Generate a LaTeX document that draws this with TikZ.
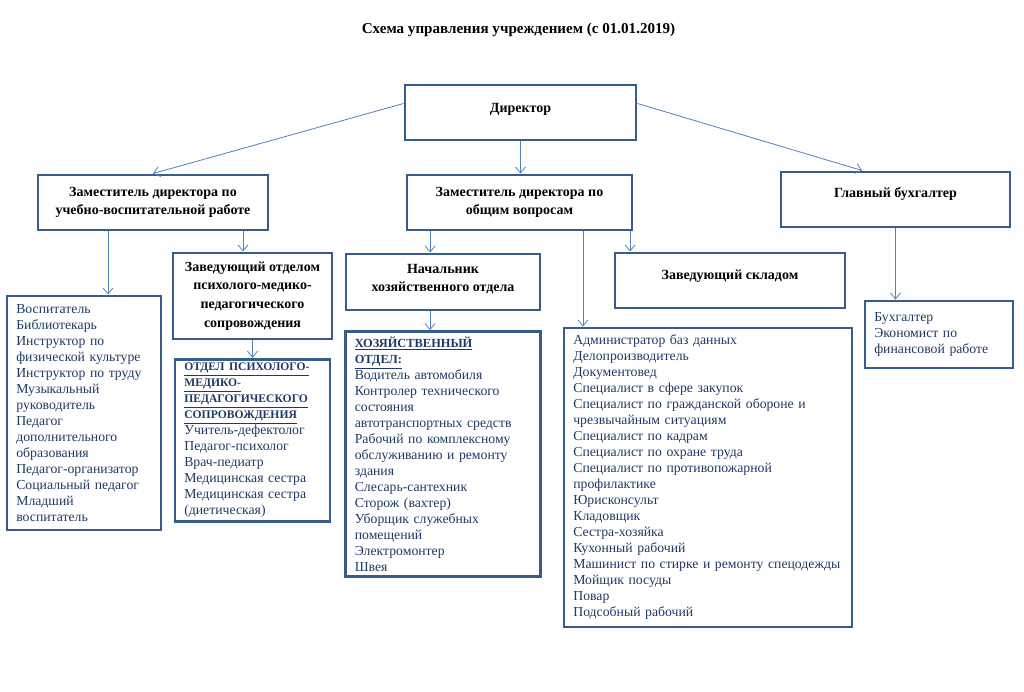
\documentclass[tikz,border=0pt]{standalone}
\usepackage{fontspec}
\setmainfont{Liberation Serif}
\usetikzlibrary{arrows.meta,positioning}
\definecolor{boxblue}{RGB}{56,93,138}
\definecolor{linkblue}{RGB}{79,129,189}
\definecolor{listblue}{RGB}{31,56,100}
\begin{document}
\begin{tikzpicture}[x=0.75pt,y=-0.75pt]
    \tikzstyle{head} = [draw=boxblue, line width=2.2pt, fill=white, align=center, font=\fontsize{10.5}{14}\selectfont\bfseries, inner sep=4pt]
    \tikzstyle{list} = [draw=boxblue, line width=2.2pt, align=left, text=listblue, font=\fontsize{10.3}{12}\selectfont, inner xsep=7pt, inner ysep=3pt]
    \tikzstyle{conn} = [draw=linkblue, line width=0.6pt, -{Straight Barb[length=4.5pt,width=7.5pt]}]
    \useasboundingbox (0,0) rectangle (1024,692);
        \node[font=\fontsize{11.3}{13}\selectfont\bfseries] (title) at (518.5,30) {Схема управления учреждением (с 01.01.2019)};
        % level 1
        \node[head, minimum width=173.25pt, minimum height=41.25pt, text depth=7pt] (dir) at (520.5,112.5) {Директор};
        % level 2
        \node[head, minimum width=172.5pt, minimum height=41.25pt] (uvr) at (153,202.5) {Заместитель директора по\\учебно-воспитательной работе};
        \node[head, minimum width=168.75pt, minimum height=41.25pt] (obsch) at (519.5,202.5) {Заместитель директора по\\общим вопросам};
        \node[head, minimum width=171.75pt, minimum height=41.25pt, text depth=10pt] (buh) at (895.5,199.5) {Главный бухгалтер};
        \draw[conn] ([yshift=6.75pt]dir.west) -- (uvr.north);
        \draw[conn] (dir.south) -- (dir.south |- obsch.north);
        \draw[conn] ([yshift=6.75pt]dir.east) -- ([xshift=-25pt]buh.north);
        % level 3
        \node[head, minimum width=119.25pt, minimum height=64.5pt] (ppmsh) at (252.5,296) {Заведующий отделом\\психолого-медико-\\педагогического\\сопровождения};
        \node[head, minimum width=145.5pt, minimum height=42pt, text depth=6pt] (hozh) at (443,282) {Начальник\\хозяйственного отдела};
        \node[head, minimum width=172.5pt, minimum height=41.25pt, text depth=9pt] (sklad) at (730,280.5) {Заведующий складом};
        \draw[conn] ([xshift=67.5pt]uvr.south) -- ([xshift=67.5pt]uvr.south |- ppmsh.north);
        \draw[conn] ([xshift=-67pt]obsch.south) -- ([xshift=-67pt]obsch.south |- hozh.north);
        \draw[conn] ([xshift=82.9pt]obsch.south) -- ([xshift=82.9pt]obsch.south |- sklad.north);
        % staff lists
        \node[list, text width=101.5pt, minimum height=175.5pt] (vosp) at (84,413) {Воспитатель\\Библиотекарь\\Инструктор по\\физической культуре\\Инструктор по труду\\Музыкальный\\руководитель\\Педагог\\дополнительного\\образования\\Педагог-организатор\\Социальный педагог\\Младший\\воспитатель};
        \node[list, text width=102.25pt, minimum height=121.5pt, below=13pt of ppmsh] (ppms) {{\fontsize{8.7}{12}\selectfont\underline{\textbf{ОТДЕЛ ПСИХОЛОГО-}}\\\underline{\textbf{МЕДИКО-}}\\\underline{\textbf{ПЕДАГОГИЧЕСКОГО}}\\\underline{\textbf{СОПРОВОЖДЕНИЯ}}}\\Учитель-дефектолог\\Педагог-психолог\\Врач-педиатр\\Медицинская сестра\\Медицинская сестра\\(диетическая)};
        \node[list, text width=132.25pt, minimum height=183.75pt, below=14pt of hozh] (hoz) {{\fontsize{9.3}{12}\selectfont\underline{\textbf{ХОЗЯЙСТВЕННЫЙ}}\\\underline{\textbf{ОТДЕЛ:}}}\\Водитель автомобиля\\Контролер технического\\состояния\\автотранспортных средств\\Рабочий по комплексному\\обслуживанию и ремонту\\здания\\Слесарь-сантехник\\Сторож (вахтер)\\Уборщик служебных\\помещений\\Электромонтер\\Швея};
        \node[list, text width=202pt, minimum height=224.25pt] (obsl) at (708,477.5) {Администратор баз данных\\Делопроизводитель\\Документовед\\Специалист в сфере закупок\\Специалист по гражданской обороне и\\чрезвычайным ситуациям\\Специалист по кадрам\\Специалист по охране труда\\Специалист по противопожарной\\профилактике\\Юрисконсульт\\Кладовщик\\Сестра-хозяйка\\Кухонный рабочий\\Машинист по стирке и ремонту спецодежды\\Мойщик посуды\\Повар\\Подсобный рабочий};
        \node[list, text width=97pt, minimum height=50.25pt] (buhl) at (939,334.5) {Бухгалтер\\Экономист по\\финансовой работе};
        \draw[conn] ([xshift=-33.75pt]uvr.south) -- ([xshift=-33.75pt]uvr.south |- vosp.north);
        \draw[conn] (ppmsh.south) -- (ppms.north);
        \draw[conn] ([xshift=-9.75pt]hozh.south) -- ([xshift=-9.75pt]hozh.south |- hoz.north);
        \draw[conn] ([xshift=47.6pt]obsch.south) -- ([xshift=47.6pt]obsch.south |- obsl.north);
        \draw[conn] (buh.south) -- (buh.south |- buhl.north);
\end{tikzpicture}
\end{document}
